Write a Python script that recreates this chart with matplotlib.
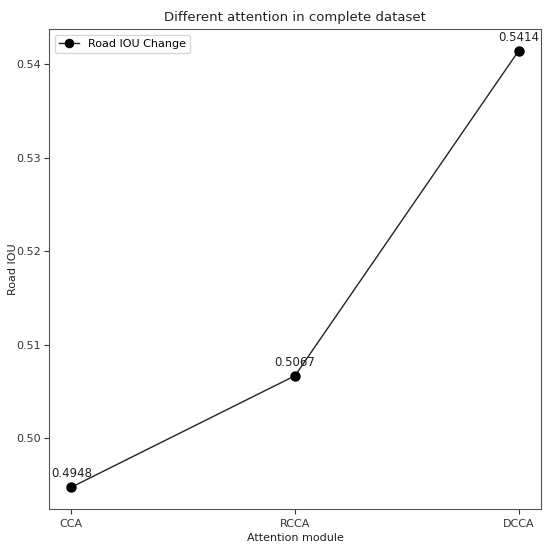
import matplotlib
matplotlib.use("Agg")
import matplotlib.pyplot as plt

modules = ["CCA", "RCCA", "DCCA"]
iou = [0.4948, 0.5067, 0.5414]
labels = ["0.4948", "0.5067", "0.5414"]

fig = plt.figure(figsize=(5.5, 5.49), dpi=100)
ax = fig.add_axes([49/550, 1-509/549, (541-49)/550, (509-29)/549])
ax.plot(modules, iou, color="#222222", marker="o", markersize=6.5, markerfacecolor="black",
        markeredgecolor="black", linewidth=1, label="Road IOU Change")
for x, y, t in zip(modules, iou, labels):
    ax.annotate(t, (x, y), textcoords="offset points", xytext=(0, 7), ha="center",
                fontsize=8.5, color="#222222")
ax.set_title("Different attention in complete dataset", fontsize=9.5, color="#222222")
ax.set_xlabel("Attention module", fontsize=8, labelpad=3, color="#222222")
ax.set_ylabel("Road IOU", fontsize=8, color="#222222")
ax.yaxis.set_label_coords(-0.063, 0.5)
ax.tick_params(labelsize=8, colors="#333333")
ax.tick_params(axis="y", pad=2.5)
ax.set_yticks([0.50, 0.51, 0.52, 0.53, 0.54])
for s in ax.spines.values():
    s.set_color("#555555")
ax.legend(loc="upper left", fontsize=8, handlelength=1.8, markerscale=0.9)
fig.savefig("out.png", dpi=100)
